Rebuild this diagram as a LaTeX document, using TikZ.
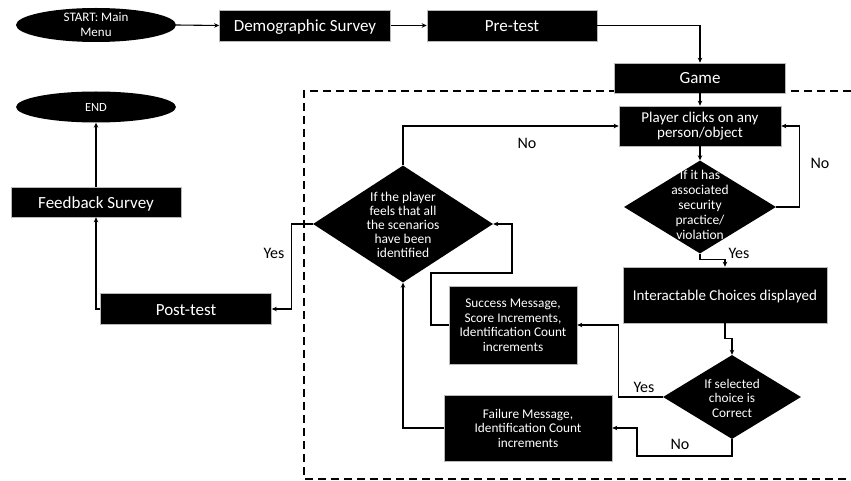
\documentclass[tikz,border=0pt]{standalone}
\usepackage{fontspec}
\setmainfont{Carlito}
\usetikzlibrary{arrows.meta,shapes.geometric}
\begin{document}
\begin{tikzpicture}[x=1pt,y=-1pt,
  box/.style={rectangle,fill=black,draw=gray!55,line width=0.6pt,text=white,inner sep=0pt,align=center},
  oval/.style={ellipse,fill=black,text=white,inner sep=0pt,align=center},
  dia/.style={diamond,fill=black,inner sep=0pt},
  dtext/.style={text=white,align=center,inner sep=0pt,font=\fontsize{13.3}{14.5}\selectfont},
  big/.style={font=\fontsize{17}{20}\selectfont,text height=12,text depth=0},
  mid/.style={font=\fontsize{15}{14.5}\selectfont},
  small/.style={font=\fontsize{13.3}{14.5}\selectfont},
  lower/.style={execute at begin node={\rule{0pt}{#1pt}}},
  lbl/.style={font=\fontsize{16}{18}\selectfont,inner sep=0pt},
  arr/.style={line width=1.1pt,-{Stealth[length=5pt,width=4.5pt]}},
  frame/.style={line width=1.6pt,dash pattern=on 8pt off 5pt}
]
\useasboundingbox (0,0) rectangle (851,481);

% dashed frame
\draw[frame] (851,91) -- (304,91) -- (304,479) -- (851,479);

% nodes
\node[oval,minimum width=160,minimum height=34,font=\fontsize{13}{15}\selectfont] (start) at (96,25) {START: Main\\Menu};
\node[box,big,minimum width=171,minimum height=31] (demo) at (305,25.5) {Demographic Survey};
\node[box,big,minimum width=170,minimum height=31] (pre) at (512,25.5) {Pre-test};
\node[box,big,minimum width=171,minimum height=30] (game) at (700,78) {Game};
\node[box,mid,lower=16,minimum width=162,minimum height=40] (player) at (700,126) {Player clicks on any\\person/object};
\node[dia,minimum width=152,minimum height=93] (d1) at (700,207) {};
\node[dtext,font=\fontsize{13.5}{15}\selectfont] (t1) at (700,205) {If it has\\associated\\security\\practice/\\violation};
\node[box,mid,text height=11.5,text depth=0,minimum width=204,minimum height=56] (inter) at (725,295) {Interactable Choices displayed};
\node[dia,minimum width=138,minimum height=84] (d2) at (732,397) {};
\node[dtext] (t2) at (732,398) {If selected\\choice is\\Correct};
\node[box,small,lower=14,minimum width=128,minimum height=78] (succ) at (513,325) {Success Message,\\Score Increments,\\Identification Count\\increments};
\node[box,small,lower=14.5,minimum width=168,minimum height=66] (fail) at (528,428) {Failure Message,\\Identification Count\\increments};
\node[dia,minimum width=180,minimum height=117] (d3) at (403,224) {};
\node[dtext,font=\fontsize{13.5}{14}\selectfont] (t3) at (403,225) {If the player\\feels that all\\the scenarios\\have been\\identified};
\node[box,big,minimum width=171,minimum height=31] (post) at (186,309) {Post-test};
\node[box,big,minimum width=170,minimum height=30] (fb) at (96,202) {Feedback Survey};
\node[oval,minimum width=160,minimum height=31,font=\fontsize{12.5}{14}\selectfont] (endn) at (96,107) {END};

% helper coordinates
\coordinate (c1) at (431,273);
\coordinate (c2) at (512,273);
\coordinate (c3) at (637,456);

% connectors
\draw[arr] (start.east) -- (demo.west);
\draw[arr] (demo.east) -- (pre.west);
\draw[arr] (pre.east) -| (game.north);
\draw[arr] (game.south) -- (player.north);
\draw[arr] (player.south) -- (d1.north);
\draw[arr] (d1.east) -- ++(23,0) |- (player.east);
\draw[arr] (d1.south) -- ++(0,6) -| (inter.north);
\draw[arr] (inter.south) -- ++(0,15) -| (d2.north);
\draw[arr] (d2.west) -- ++(-44,0) |- (succ.east);
\draw[arr] (succ.west) -| (c1) -- (c2) |- (d3.east);
\draw[arr] (d2.south) |- (c3) |- (fail.east);
\draw[arr] (fail.west) -| (d3.south);
\draw[arr] (d3.north) |- (player.west);
\draw[arr] (d3.west) -- ++(-21,0) |- (post.east);
\draw[arr] (post.west) -| (fb.south);
\draw[arr] (fb.north) -- (endn.south);

% labels
\node[lbl] (l1) at (527,143) {No};
\node[lbl] (l2) at (820,163) {No};
\node[lbl] (l3) at (739,253) {Yes};
\node[lbl] (l4) at (274,253) {Yes};
\node[lbl] (l5) at (644,387) {Yes};
\node[lbl] (l6) at (680,444) {No};
\end{tikzpicture}
\end{document}
